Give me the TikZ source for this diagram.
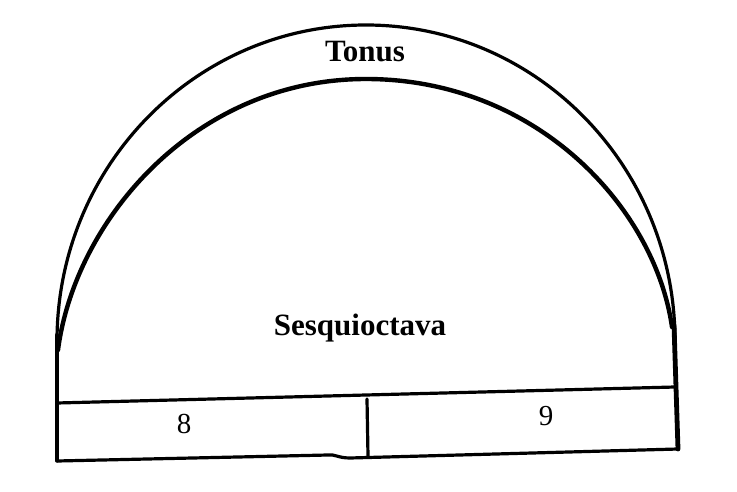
\documentclass[tikz,border=0pt]{standalone}
\usepackage{fontspec}
\setmainfont{Liberation Serif}
\begin{document}
\begin{tikzpicture}[x=1pt,y=-1pt,line cap=round,line join=round,
  outerarc/.style={line width=3.2pt},
  innerarc/.style={line width=4.4pt},
  barline/.style={line width=3.2pt},
  heavyline/.style={line width=4.8pt},
  lbl/.style={inner sep=0pt,font=\fontsize{31}{31}\selectfont\bfseries},
  num/.style={inner sep=0pt,font=\fontsize{29}{29}\selectfont}]
\useasboundingbox (0,0) rectangle (737,492);
% named corner points
\coordinate (oL) at (57,341);
\coordinate (iL) at (58,350);
\coordinate (iT) at (366,79);
\coordinate (iR) at (672,327);
\coordinate (bTL) at (57,403);
\coordinate (bTR) at (675,387);
\coordinate (bBL) at (57,461);
\coordinate (bBR) at (678,449);
% outer arc (Tonus)
\draw[outerarc] (oL) arc[start angle=180,end angle=360,x radius=309,y radius=316];
% inner arc (Sesquioctava)
\draw[innerarc] (iL) .. controls (75,220) and (195,79) .. (iT)
                     .. controls (537,79) and (655,208) .. (iR);
% vertical sides
\draw[outerarc] (57,335) -- (bBL);
\draw[heavyline] (674,325) -- (bBR);
% bar
\draw[barline] (bTL) -- (bTR);
\draw[barline] (bBL) -- (328,455) .. controls (335,454) and (338,458) .. (350,458) -- (bBR);
\draw[barline] (367,399) -- (368,456);
% labels
\node[lbl] (tonus) at (365,52) {Tonus};
\node[lbl] (sesq) at (360,328) {Sesquioctava};
\node[num] (eight) at (184,424) {8};
\node[num] (nine) at (546,416) {9};
\end{tikzpicture}
\end{document}
